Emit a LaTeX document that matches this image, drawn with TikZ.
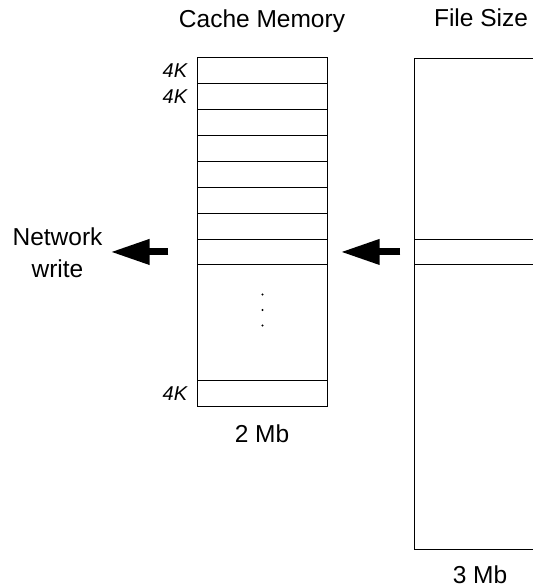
\documentclass[tikz,border=0pt]{standalone}
\usepackage{fontspec}
\setmainfont{Liberation Sans}
\usetikzlibrary{arrows.meta,positioning}

\begin{document}
\begin{tikzpicture}[x=1pt,y=-1pt,
    cell/.style={rectangle,draw,line width=0.9pt,minimum width=130.4pt,
                 minimum height=25.9pt,inner sep=0pt,outer sep=0pt},
    big/.style={line width=7pt,-{Triangle[length=39pt,width=24pt]}},
    heading/.style={font=\fontsize{24.5}{32}\selectfont,inner sep=0pt},
    blocksize/.style={font=\fontsize{20}{24}\selectfont\itshape,inner sep=0pt}]

  \useasboundingbox (0,0) rectangle (533,587);
  \clip (0,0) rectangle (533,587);

  % cache blocks
  \node[cell] (r1) at (262.5,70.65) {};
  \node[cell] (r2) [below=0pt of r1] {};
  \node[cell] (r3) [below=0pt of r2] {};
  \node[cell] (r4) [below=0pt of r3] {};
  \node[cell] (r5) [below=0pt of r4] {};
  \node[cell] (r6) [below=0pt of r5] {};
  \node[cell] (r7) [below=0pt of r6] {};
  \node[cell] (r8) [below=0pt of r7] {};
  \node[cell,minimum height=115.3pt] (gap) [below=0pt of r8] {};
  \node[cell] (r9) [below=0pt of gap] {};

  \fill ([yshift=-29.5pt]gap.north) circle (1.1pt)
        ([yshift=-45pt]gap.north) circle (1.1pt)
        ([yshift=-60.5pt]gap.north) circle (1.1pt);

  \node[blocksize] (k1) [left=10pt of r1] {4K};
  \node[blocksize] (k2) [left=10pt of r2] {4K};
  \node[blocksize] (k3) [left=10pt of r9] {4K};

  % the file, runs off to the right
  \node[cell,minimum width=140pt,minimum height=491pt,anchor=north west] (file) at (414.3,58.3) {};
  \node[cell,minimum width=140pt,anchor=west] (chunk) at (file.west |- r8) {};

  \node[heading,anchor=base] (cachename) at (262,27) {Cache Memory};
  \node[heading,anchor=base] (filename) at (481,26) {File Size};
  \node[heading,anchor=base] (cachesize) at (262,442) {2 Mb};
  \node[heading,anchor=base] (filesize) at (480,583) {3 Mb};
  \node[heading,align=center] (net) at (57.5,253) {Network\\write};

  \coordinate (out) at (net.east |- r8);

  \path
    (chunk) edge[big,shorten <=14pt,shorten >=13pt] (r8)
    (r8) edge[big,shorten <=29pt,shorten >=8pt] (out);

\end{tikzpicture}
\end{document}
